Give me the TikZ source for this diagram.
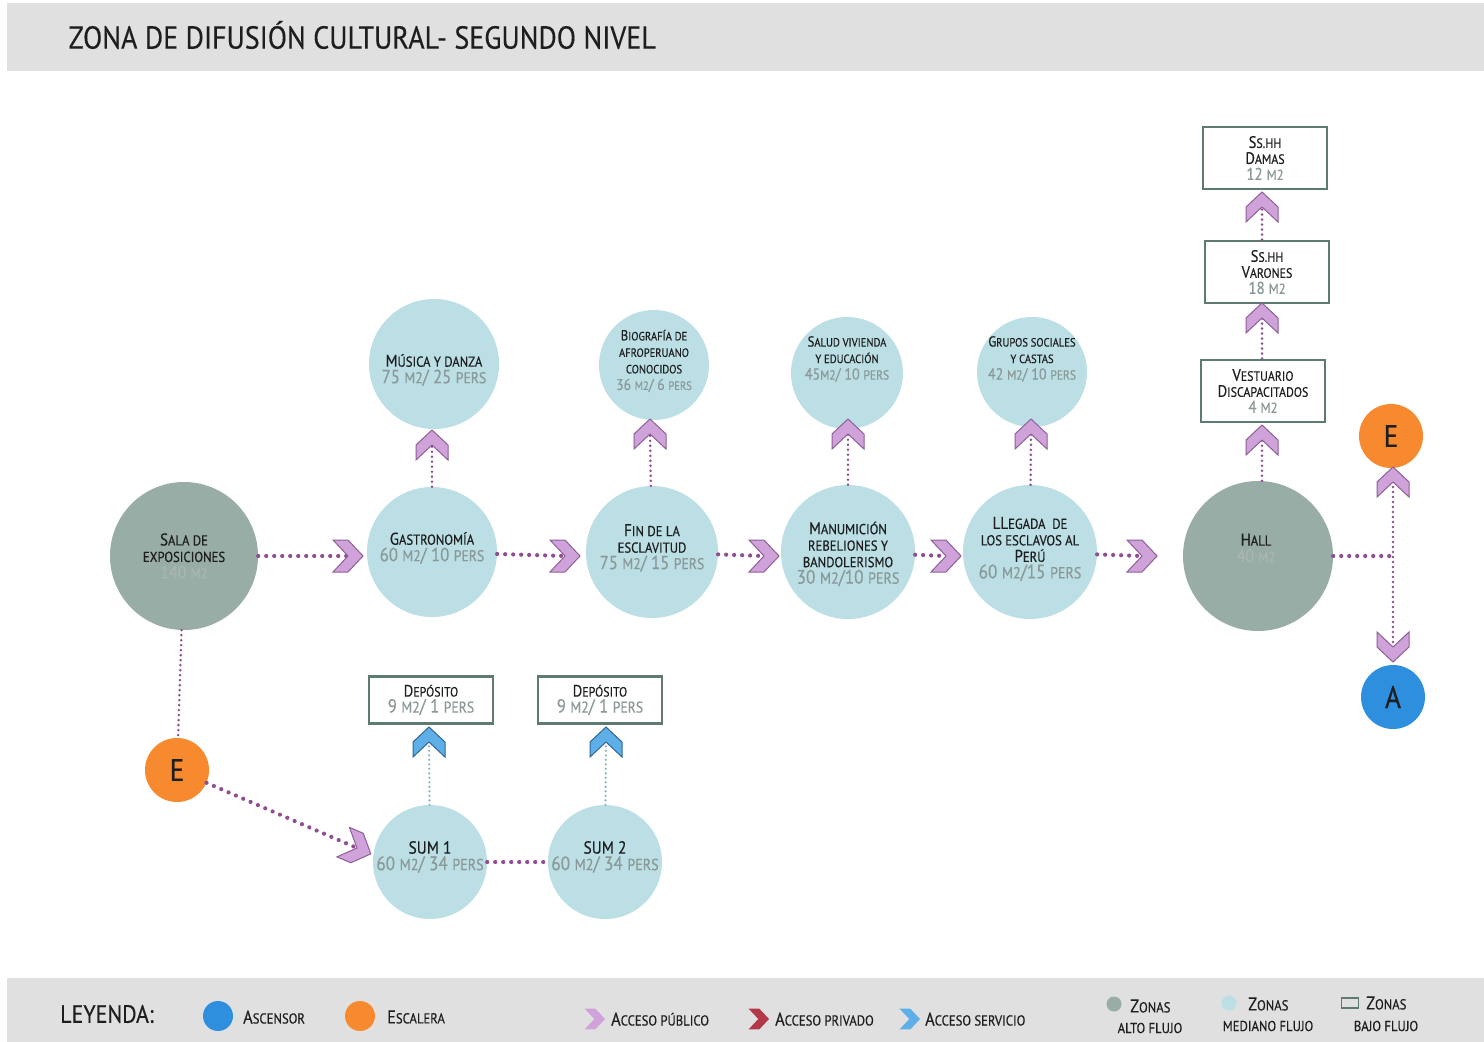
\documentclass[tikz,border=0pt]{standalone}
\usepackage{fontspec}
\setmainfont{PT Sans}[FakeStretch=0.88,FakeBold=0.35]
\usepackage{relsize}
\usetikzlibrary{calc}
\definecolor{altoC}{HTML}{98ADA5}
\definecolor{medC}{HTML}{BBDFE4}
\definecolor{orangeC}{HTML}{F7892E}
\definecolor{blueC}{HTML}{2F8FDF}
\definecolor{purF}{HTML}{CFA3DA}
\definecolor{purD}{HTML}{8E5F98}
\definecolor{purLine}{HTML}{8E4E91}
\definecolor{boxC}{HTML}{5E7B72}
\definecolor{grayT}{HTML}{8A9897}
\definecolor{grayL}{HTML}{AAB6B3}
\definecolor{darkT}{HTML}{1E1E1E}
\definecolor{barC}{HTML}{E0E0E0}
\definecolor{blueF}{HTML}{5EAEE8}
\definecolor{blueD}{HTML}{2F6797}
\definecolor{redF}{HTML}{B23A48}
\definecolor{redD}{HTML}{7A2030}
\definecolor{svcLine}{HTML}{7CB6BD}
\newcommand\lc[1]{{\relscale{0.82}#1}}
\newcommand\gt[2][19]{\textcolor{grayT}{\fontsize{#1}{17}\selectfont #2}}
\newcommand\gl[2][18]{\textcolor{grayL}{\fontsize{#1}{17}\selectfont #2}}
\tikzset{
  alto/.style={circle, fill=altoC, minimum size=#1, inner sep=0},
  medio/.style={circle, fill=medC, minimum size=#1, inner sep=0},
  bajo/.style={rectangle, draw=boxC, line width=2.8pt, fill=white, minimum width=124, minimum height=#1, inner sep=0, align=center, text=darkT, font=\fontsize{16.5}{16}\selectfont},
  escalera/.style={circle, fill=orangeC, minimum size=64, inner sep=0, text=darkT, font=\fontsize{31}{31}\selectfont},
  ascensor/.style={circle, fill=blueC, minimum size=64, inner sep=0, text=darkT, font=\fontsize{31}{31}\selectfont},
  txt/.style={align=center, text=darkT, inner sep=0, font=\fontsize{#1}{16.5}\selectfont},
  txt/.default=17,
  pub/.style={draw=purLine, line width=4.2pt, dash pattern=on 0pt off 8pt, line cap=round},
  pubv/.style={draw=purLine, line width=2.8pt, dash pattern=on 0pt off 5pt, line cap=round},
  svc/.style={draw=svcLine, line width=2.4pt, dash pattern=on 0pt off 4.5pt, line cap=round},
  legtxt/.style={anchor=west, text=darkT, inner sep=0, font=\fontsize{18.5}{18}\selectfont},
  legsub/.style={align=center, text=darkT, inner sep=0, font=\fontsize{17}{17}\selectfont},
  pics/chev/.style 2 args={code={
    \filldraw[fill=#1, draw=#2, line width=1pt, line join=miter]
      (15,0) -- (0,-16) -- (-15,-16) -- (0,0) -- (-15,16) -- (0,16) -- cycle;}}
}
\begin{document}
\begin{tikzpicture}[x=1pt,y=-1pt]
\useasboundingbox (0,0) rectangle (1484,1042);
\fill[white] (0,0) rectangle (1484,1042);
% title bar
\fill[barC] (7,3) rectangle (1484,71);
\node[anchor=west, text=darkT, font=\fontsize{31.8}{32}\selectfont] (title) at (65,35) {ZONA DE DIFUSIÓN CULTURAL- SEGUNDO NIVEL};

% ---------- main row ----------
\node[alto=148] (sala) at (184,556) {};
\node[txt=17] (sala-t) at (184,556) {S\lc{ALA DE}\\\lc{EXPOSICIONES}\\\gl{140 \lc{M2}}};

\node[medio=130] (gas) at (432,552) {};
\node[txt=17] (gas-t) at (432,548) {G\lc{ASTRONOMÍA}\\\gt{60 \lc{M2}/ 10 \lc{PERS}}};

\node[medio=130] (mus) at (434,364) {};
\node[txt=17] (mus-t) at (434,370) {M\lc{ÚSICA Y DANZA}\\\gt{75 \lc{M2}/ 25 \lc{PERS}}};

\node[medio=132] (fin) at (652,552) {};
\node[txt=17] (fin-t) at (652,548) {F\lc{IN DE LA}\\\lc{ESCLAVITUD}\\\gt{75 \lc{M2}/ 15 \lc{PERS}}};

\node[medio=110] (bio) at (654,365) {};
\node[txt=14.5] (bio-t) at (654,361) {B\lc{IOGRAFÍA DE}\\\lc{AFROPERUANO}\\\lc{CONOCIDOS}\\\gt[15.5]{36 \lc{M2}/ 6 \lc{PERS}}};

\node[medio=134] (man) at (848,552) {};
\node[txt=17] (man-t) at (848,554) {M\lc{ANUMICIÓN}\\\lc{REBELIONES Y}\\\lc{BANDOLERISMO}\\\gt[19.5]{30 \lc{M2}/10 \lc{PERS}}};

\node[medio=112] (sal) at (847,373) {};
\node[txt=14.5] (sal-t) at (847,359) {S\lc{ALUD VIVIENDA}\\\lc{Y EDUCACIÓN}\\\gt[16]{45\lc{M2}/ 10 \lc{PERS}}};

\node[medio=134] (lle) at (1030,552) {};
\node[txt=17] (lle-t) at (1030,549) {LL\lc{EGADA~ DE}\\\lc{LOS ESCLAVOS AL}\\P\lc{ERÚ}\\\gt[19.5]{60 \lc{M2}/15 \lc{PERS}}};

\node[medio=110] (gru) at (1032,372) {};
\node[txt=14.5] (gru-t) at (1032,359) {G\lc{RUPOS SOCIALES}\\\lc{Y CASTAS}\\\gt[16]{42 \lc{M2}/ 10 \lc{PERS}}};

\node[alto=150] (hall) at (1258,556) {};
\node[txt=17] (hall-t) at (1256,548) {H\lc{ALL}\\\gl{40 \lc{M2}}};

% boxes top right
\node[bajo=62] (dam) at (1265,158) {S\lc{S.HH}\\D\lc{AMAS}\\\gt[17]{12 \lc{M2}}};
\node[bajo=62] (var) at (1267,272) {S\lc{S.HH}\\V\lc{ARONES}\\\gt[17]{18 \lc{M2}}};
\node[bajo=62] (ves) at (1263,391) {V\lc{ESTUARIO}\\D\lc{ISCAPACITADOS}\\\gt[17]{4 \lc{M2}}};

\node[escalera] (er) at (1391,436) {E};
\node[ascensor] (ar) at (1393,697) {A};

% ---------- lower part ----------
\node[escalera] (el) at (177,770) {E};
\node[medio=114] (s1) at (430,862) {};
\node[txt=17.5] (s1-t) at (430,857) {SUM 1\\\gt[19.5]{60 \lc{M2}/ 34 \lc{PERS}}};
\node[medio=114] (s2) at (605,862) {};
\node[txt=17.5] (s2-t) at (605,857) {SUM 2\\\gt[19.5]{60 \lc{M2}/ 34 \lc{PERS}}};
\node[bajo=47] (d1) at (431,700) {D\lc{EPÓSITO}\\\gt[19]{9 \lc{M2}/ 1 \lc{PERS}}};
\node[bajo=47] (d2) at (600,700) {D\lc{EPÓSITO}\\\gt[19]{9 \lc{M2}/ 1 \lc{PERS}}};

% ---------- connectors ----------
% horizontal public access
\coordinate (c1) at (348,556);
\coordinate (c2) at (565,556);
\coordinate (c3) at (764,556);
\coordinate (c4) at (946,556);
\coordinate (c5) at (1142,556);
\draw[pub] (sala) -- (c1);
\draw[pub] (gas) -- (c2);
\draw[pub] (fin) -- (c3);
\draw[pub] (man) -- (c4);
\draw[pub] (lle) -- (c5);
\pic at (c1) {chev={purF}{purD}};
\pic at (c2) {chev={purF}{purD}};
\pic at (c3) {chev={purF}{purD}};
\pic at (c4) {chev={purF}{purD}};
\pic at (c5) {chev={purF}{purD}};

% vertical public access
\coordinate (c6) at (432,445);
\coordinate (c7) at (650,434);
\coordinate (c8) at (848,434);
\coordinate (c9) at (1031,434);
\coordinate (c10) at (1262,440);
\coordinate (c11) at (1262,318);
\coordinate (c12) at (1262,207);
\draw[pubv] (gas) -- (c6);
\draw[pubv] (fin) -- (c7);
\draw[pubv] (man) -- (c8);
\draw[pubv] (lle) -- (c9);
\draw[pubv] (hall.north -| c10) -- (c10);
\draw[pubv] (ves.north -| c11) -- (c11);
\draw[pubv] (var.north -| c12) -- (c12);
\foreach \c in {c6,c7,c8,c9,c10,c11,c12}
  \pic[rotate=90] at (\c) {chev={purF}{purD}};

% hall to E / A
\coordinate (jn) at (1393,556);
\coordinate (c13) at (1393,482);
\coordinate (c14) at (1393,647);
\draw[pub] (hall) -- (jn);
\draw[pubv] (c13) -- (c14);
\pic[rotate=90] at (c13) {chev={purF}{purD}};
\pic[rotate=-90] at (c14) {chev={purF}{purD}};

% sala to E (left), E to SUM 1, SUM1 to SUM2
\draw[pubv] (sala) -- (el);
\coordinate (c15) at (357,848);
\draw[pub] (el) -- (c15);
\pic[rotate=-23] at (c15) {chev={purF}{purD}};
\draw[pub] (s1) -- (s2);

% service access
\coordinate (c16) at (429,742);
\coordinate (c17) at (606,742);
\draw[svc] (s1) -- (c16);
\draw[svc] (s2) -- (c17);
\pic[rotate=90] at (c16) {chev={blueF}{blueD}};
\pic[rotate=90] at (c17) {chev={blueF}{blueD}};

% ---------- legend ----------
\fill[barC] (7,978) rectangle (1484,1042);
\node[legtxt, font=\fontsize{25}{25}\selectfont] (leg) at (60,1014) {LEYENDA:};
\node[circle, fill=blueC, minimum width=30, minimum height=30, inner sep=0] (lg-asc) at (218,1016) {};
\node[legtxt] (lg-asc-t) at (243,1017) {A\lc{SCENSOR}};
\node[circle, fill=orangeC, minimum size=30, inner sep=0] (lg-esc) at (360,1016) {};
\node[legtxt] (lg-esc-t) at (387,1017) {E\lc{SCALERA}};
\pic[scale=0.62] at (595,1019) {chev={purF}{purF}};
\node[legtxt] (lg-pub) at (611,1019) {A\lc{CCESO PÚBLICO}};
\pic[scale=0.62] at (759,1019) {chev={redF}{redF}};
\node[legtxt] (lg-pri) at (775,1019) {A\lc{CCESO PRIVADO}};
\pic[scale=0.62] at (910,1019) {chev={blueF}{blueF}};
\node[legtxt] (lg-ser) at (925,1019) {A\lc{CCESO SERVICIO}};
\node[circle, fill=altoC, minimum size=15, inner sep=0] (lg-alto) at (1114,1004) {};
\node[legtxt] (lg-alto-t) at (1130,1006) {Z\lc{ONAS}};
\node[legsub] (lg-alto-b) at (1150,1028) {\lc{ALTO FLUJO}};
\node[circle, fill=medC, minimum size=15, inner sep=0] (lg-med) at (1229,1003) {};
\node[legtxt] (lg-med-t) at (1248,1004) {Z\lc{ONAS}};
\node[legsub] (lg-med-b) at (1268,1026) {\lc{MEDIANO FLUJO}};
\node[draw=boxC, line width=1.8pt, minimum width=17, minimum height=10, inner sep=0] (lg-baj) at (1350,1003) {};
\node[legtxt] (lg-baj-t) at (1366,1003) {Z\lc{ONAS}};
\node[legsub] (lg-baj-b) at (1386,1026) {\lc{BAJO FLUJO}};
\end{tikzpicture}
\end{document}
